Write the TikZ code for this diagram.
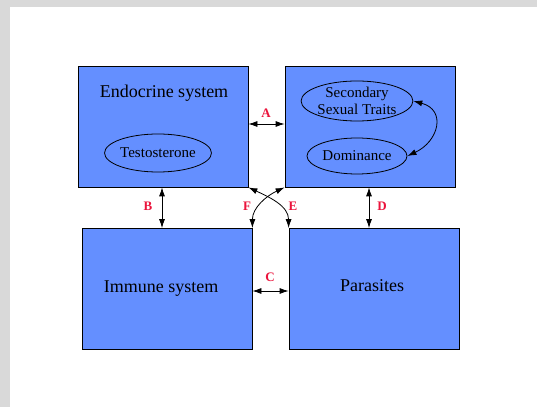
\documentclass[tikz,border=0pt]{standalone}
\usepackage{fontspec}
\setmainfont{Liberation Serif}
\usetikzlibrary{arrows.meta,positioning,calc,shapes.geometric}
\definecolor{boxblue}{RGB}{100,143,255}
\definecolor{lblred}{RGB}{235,20,60}
\definecolor{pagegrey}{RGB}{217,217,217}
\tikzset{
sysbox/.style={draw=black, fill=boxblue, line width=0.8pt, minimum width=170pt, minimum height=121pt, inner sep=0pt},
traitell/.style={draw=black, fill=boxblue, ellipse, line width=0.8pt, inner sep=0pt, align=center, font=\fontsize{15}{17}\selectfont},
bigtext/.style={font=\fontsize{18}{21}\selectfont},
biarrow/.style={{Latex[length=9pt,width=6pt]}-{Latex[length=9pt,width=6pt]}, line width=0.8pt},
letterlbl/.style={text=lblred, font=\fontsize{13}{15}\selectfont\bfseries}
}
\begin{document}
\begin{tikzpicture}[x=1pt,y=1pt]
\useasboundingbox (0,0) rectangle (537,407);
\fill[pagegrey] (0,0) rectangle (537,407);
\fill[white] (10,0) rectangle (537,400);

\node[sysbox] (endo) at (163,280.5) {};
\node[sysbox] (sex) at (370,280.5) {};
\node[sysbox] (immune) at (167,118) {};
\node[sysbox] (parasite) at (374,118) {};

\node[bigtext] (endotext) at (164,314) {Endocrine system};
\node[bigtext] (immunetext) at (161,118.5) {Immune system};
\node[bigtext] (parasitetext) at (372,121) {Parasites};
\node[traitell, minimum width=106pt, minimum height=38pt] (testo) at (158,254) {Testosterone};
\node[traitell, minimum width=106pt, minimum height=40pt] (traits) at (357,306) {Secondary\\Sexual Traits};
\node[traitell, minimum width=100pt, minimum height=36pt] (domin) at (357,251) {Dominance};

\draw[biarrow] ([yshift=2.5pt]endo.east) -- ([yshift=2.5pt]sex.west);
\draw[biarrow] (endo.south -| 162,0) -- (immune.north -| 162,0);
\draw[biarrow] ([yshift=-2pt]immune.east) -- ([yshift=-2pt]parasite.west);
\draw[biarrow] (sex.south -| 369,0) -- (parasite.north -| 369,0);
\draw[biarrow] (parasite.north west) to[out=90, in=-25] (endo.south east);
\draw[biarrow] (immune.north east) to[out=90, in=-155] (sex.south west);
\draw[biarrow] (traits.east) to[out=-15, in=25, looseness=1.6] (domin.east);

\node[letterlbl] (lblA) at (266,294) {A};
\node[letterlbl] (lblB) at (148,201) {B};
\node[letterlbl] (lblC) at (270,130) {C};
\node[letterlbl] (lblD) at (382,201) {D};
\node[letterlbl] (lblE) at (293,201) {E};
\node[letterlbl] (lblF) at (247,201) {F};
\end{tikzpicture}
\end{document}
